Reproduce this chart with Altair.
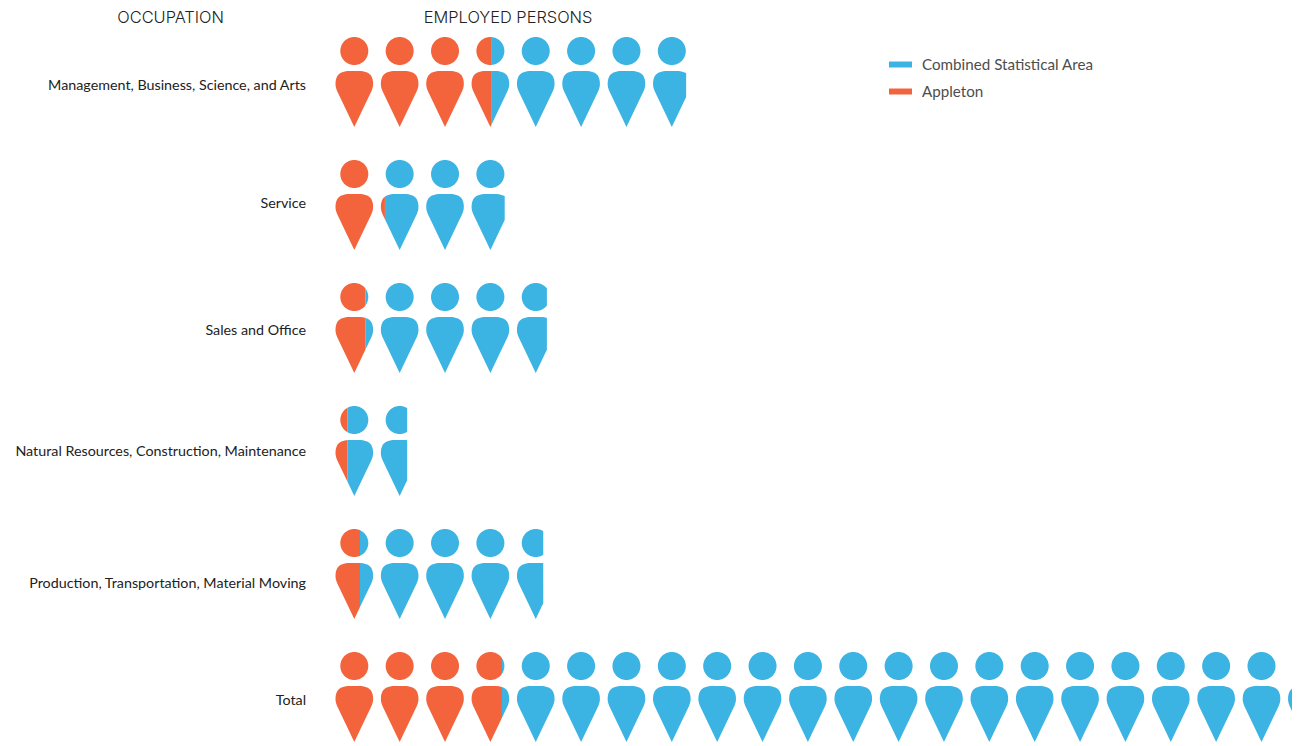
import math
import altair as alt
import pandas as pd

occupations = ["Management, Business, Science, and Arts", "Service", "Sales and Office",
               "Natural Resources, Construction, Maintenance",
               "Production, Transportation, Material Moving", "Total"]
# values in icons (one icon = one unit of employed persons)
appleton = [3.43, 1.09, 0.656, 0.26, 0.54, 3.67]
combined = [7.73, 3.73, 4.66, 1.58, 4.58, 21.09]
label_rows = [0.032, 0.992, 2.024, 3.008, 4.081, 5.032]

ORANGE = "#f4643c"
BLUE = "#3bb3e3"
FONT = "Lato"
STEP = 45.36         # pixels per icon unit
HALF_W = 18.8        # half icon width
HALF_H = 45.0        # half icon height


def bez(p0, p1, p2, p3, n=14):
    out = []
    for i in range(1, n + 1):
        t = i / n
        u = 1 - t
        out.append(tuple(u**3*a + 3*u*u*t*b + 3*u*t*t*c + t**3*d
                         for a, b, c, d in zip(p0, p1, p2, p3)))
    return out


right = [(0, -11.0)]
right += bez((0, -11.0), (11, -11.4), (18.8, -10.0), (18.8, 2.0))
right += bez((18.8, 2.0), (18.8, 4.5), (18.2, 6.5), (17.2, 9.0), 5)
right += [(0, 45.0)]
BODY = right + [(-x, y) for x, y in reversed(right[1:-1])]
HEAD = [(14 * math.cos(2 * math.pi * i / 72), -31 + 14 * math.sin(2 * math.pi * i / 72)) for i in range(72)]


def clip_side(poly, limit, keep_left):
    res = []
    inside = (lambda p: p[0] <= limit) if keep_left else (lambda p: p[0] >= limit)
    for i, p in enumerate(poly):
        q = poly[(i + 1) % len(poly)]
        if inside(p):
            res.append(p)
        if inside(p) != inside(q):
            t = (limit - p[0]) / (q[0] - p[0])
            res.append((limit, p[1] + t * (q[1] - p[1])))
    return res


def icon_path(lo, hi):
    parts = []
    for poly in (HEAD, BODY):
        c = clip_side(clip_side(poly, lo, False), hi, True)
        if len(c) >= 3:
            parts.append("M" + "L".join(f"{x/HALF_H:.4f},{y/HALF_H:.4f}" for x, y in c) + "Z")
    return "".join(parts)


rows = []
for r, (a, b) in enumerate(zip(appleton, combined)):
    for k in range(int(b) + 1):
        centre = k + HALF_W / STEP
        for name, v0, v1 in (("Appleton", -1e6, a), ("Combined Statistical Area", a, b)):
            lo = (v0 - centre) * STEP
            hi = (v1 - centre) * STEP
            if hi <= -HALF_W or lo >= HALF_W or hi <= lo:
                continue
            path = icon_path(lo, hi)
            if path:
                rows.append({"row": r, "v": centre, "series": name, "path": path})
icons = pd.DataFrame(rows)
labels = pd.DataFrame({"label": occupations, "y": label_rows, "x": [-0.65] * 6})
headers = pd.DataFrame({"label": ["OCCUPATION", "EMPLOYED PERSONS"], "x": [-3.635, 3.805], "y": [-0.52] * 2})

W, H = 1284, 738
xs = alt.Scale(domain=[-327.5 / STEP, (W - 327.5) / STEP], nice=False, zero=False)
ys = alt.Scale(domain=[-74 / 123, (H - 74) / 123], nice=False, zero=False, reverse=True)
X = alt.X("v:Q", scale=xs, axis=None)
Y = alt.Y("row:Q", scale=ys, axis=None)

icon_layer = alt.Chart(icons).mark_point(filled=True, size=4 * HALF_H**2, opacity=1, strokeWidth=0).encode(
    x=X, y=Y,
    shape=alt.Shape("path:N", scale=None),
    color=alt.Color("series:N",
                    scale=alt.Scale(domain=["Combined Statistical Area", "Appleton"], range=[BLUE, ORANGE]),
                    legend=alt.Legend(title=None, orient="none", legendX=881, legendY=45, padding=0,
                                      symbolType="M-1,-0.26H1V0.26H-1Z", symbolSize=529,
                                      symbolStrokeWidth=0, symbolOpacity=1, labelOffset=10,
                                      labelFont=FONT, labelFontSize=15.2, labelColor="#4d4d4d",
                                      labelFontWeight=400, rowPadding=7, labelLimit=300)),
)
label_layer = alt.Chart(labels).mark_text(align="right", baseline="middle", font=FONT, fontSize=14.3,
                                          fontWeight=400, color="#222222").encode(
    x=alt.X("x:Q", scale=xs, axis=None), y=alt.Y("y:Q", scale=ys, axis=None), text="label:N")
header_layer = alt.Chart(headers).mark_text(align="center", baseline="middle", font="Inter", fontSize=16.4,
                                            fontWeight=300, color="#222222").encode(
    x=alt.X("x:Q", scale=xs, axis=None), y=alt.Y("y:Q", scale=ys, axis=None), text="label:N")

chart = alt.layer(icon_layer, label_layer, header_layer).properties(
    width=W, height=H, padding=0, autosize=alt.AutoSizeParams(type="none")
).configure_view(stroke=None)
chart.save("out.html", embed_options={"renderer": "svg", "actions": False})
